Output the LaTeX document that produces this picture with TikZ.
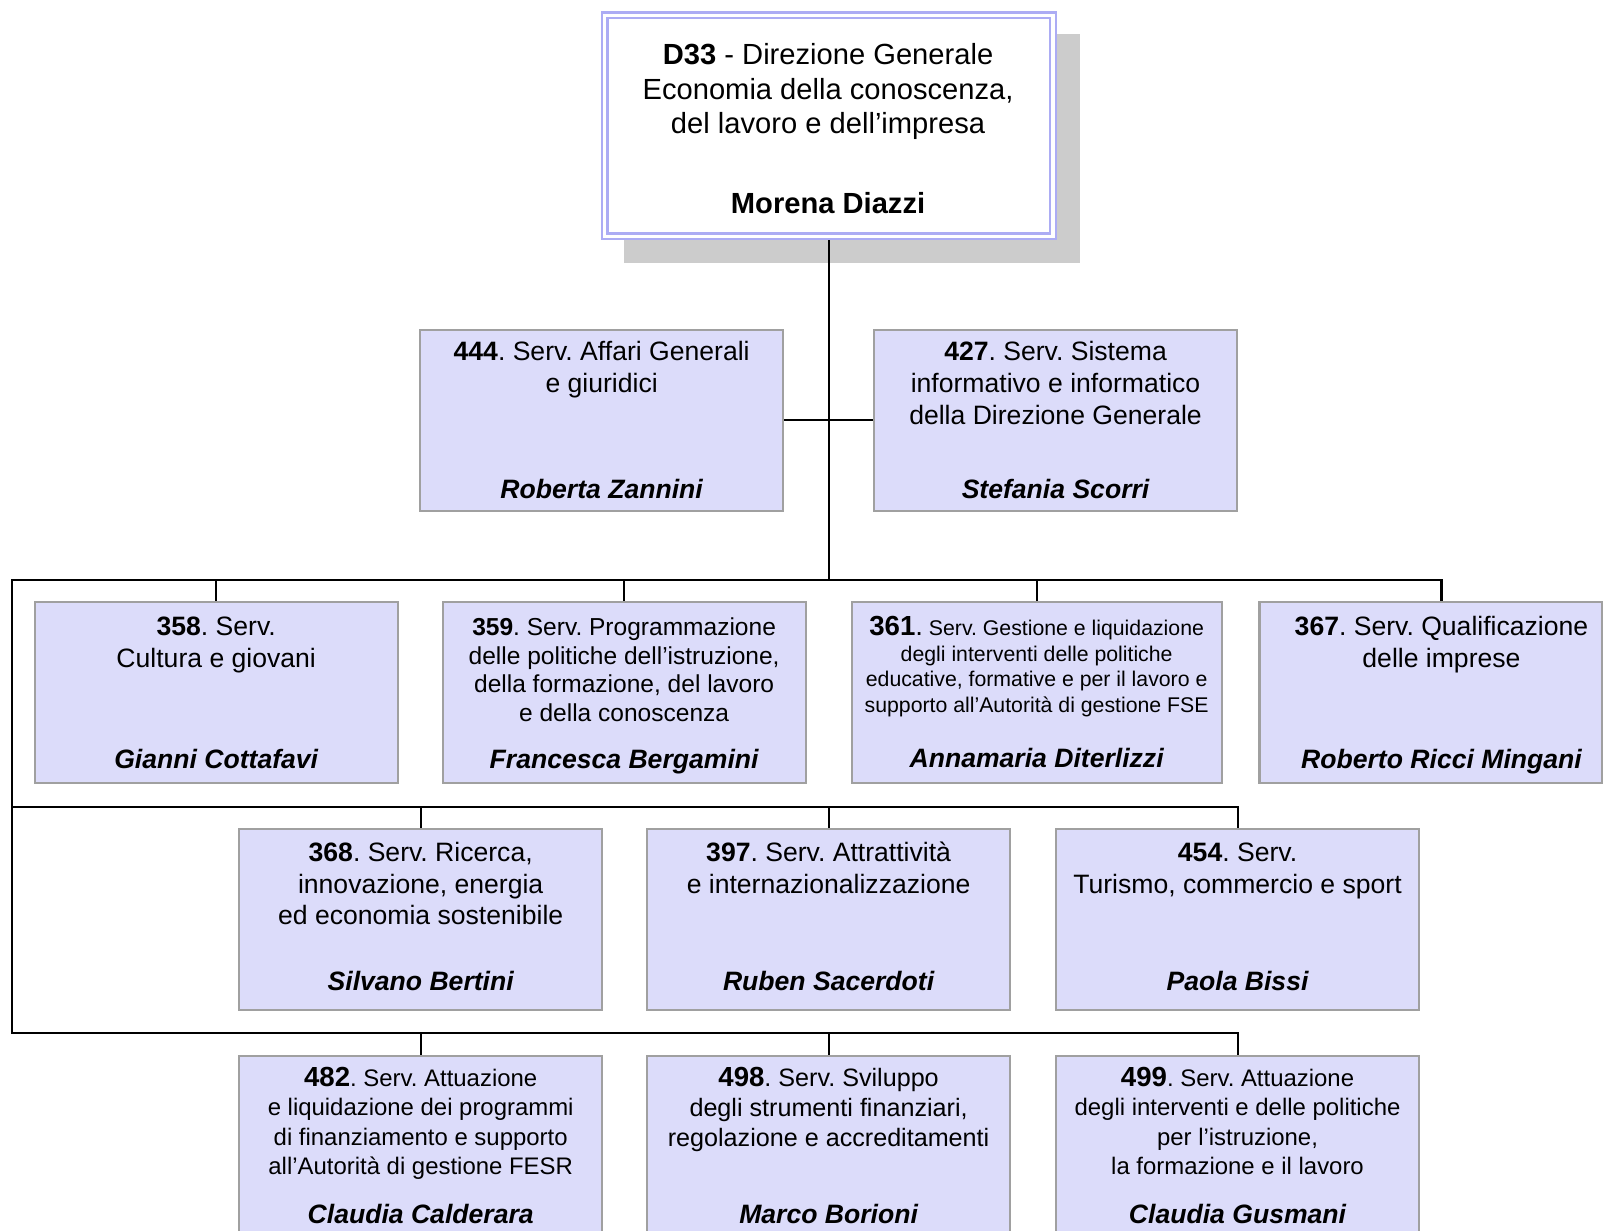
\documentclass[tikz,border=0pt]{standalone}
\usepackage{fontspec}
\setmainfont{Liberation Sans}
\definecolor{boxfill}{RGB}{220,220,250}
\definecolor{boxdraw}{RGB}{160,160,160}
\definecolor{topline}{RGB}{172,172,244}
\definecolor{shadowgray}{RGB}{204,204,204}
\newcommand{\topstrut}{\rule{0pt}{12pt}}
\newcommand{\bignum}[1]{{\fontsize{13.5}{12}\selectfont\textbf{#1}.}}
\frenchspacing
\pgfdeclarelayer{bg}
\pgfsetlayers{bg,main}
\begin{document}
\begin{tikzpicture}[x=0.5pt,y=-0.5pt,
  box/.style={draw=boxdraw, fill=boxfill, line width=1pt, inner sep=0pt, outer sep=0pt, minimum width=177.5pt, minimum height=88.5pt},
  desc/.style={anchor=north, align=center, inner sep=0pt, outer sep=0pt},
  who/.style={anchor=base, inner sep=0pt, outer sep=0pt, font=\fontsize{13}{15}\selectfont\bfseries\itshape},
  conn/.style={line width=1pt, draw=black}]
\useasboundingbox (0,0) rectangle (1568,1204);
\clip (0,0) rectangle (1568,1204);

% top box
\node[draw=topline, fill=white, line width=1.2pt, double=white, double distance=1.5pt, inner sep=0pt, outer sep=0pt, minimum width=219.25pt, minimum height=108pt] (d33) at (810.75,123) {};
\node[desc, font=\fontsize{14.25}{17}\selectfont] (d33t) at (810,39) {\topstrut\textbf{D33} - Direzione Generale\\Economia della conoscenza,\\del lavoro e dell’impresa};
\node[anchor=base, inner sep=0pt, outer sep=0pt, font=\fontsize{14.25}{17}\selectfont\bfseries] (d33n) at (810,209) {Morena Diazzi};

% boxes
\node[box] (b444) at (588.5,411) {};
\node[box] (b427) at (1032.5,411) {};
\node[box] (b358) at (211.5,677.5) {};
\node[box] (b359) at (610.5,677.5) {};
\node[box, minimum width=181pt] (b361) at (1014,677.5) {};
\node[box, minimum width=167.5pt] (b367) at (1399.5,677.5) {};
\node[box] (b368) at (411.5,899.5) {};
\node[box] (b397) at (810.5,899.5) {};
\node[box] (b454) at (1210.5,899.5) {};
\node[box] (b482) at (411.5,1121.5) {};
\node[box] (b498) at (810.5,1121.5) {};
\node[box] (b499) at (1210.5,1121.5) {};

% texts row 2
\node[desc, font=\fontsize{13}{15.5}\selectfont] (t444) at (588.5,329) {\topstrut\textbf{444}. Serv. Affari Generali\\e giuridici};
\node[who] (n444) at (588.5,488) {Roberta Zannini};
\node[desc, font=\fontsize{13}{15.5}\selectfont] (t427) at (1032.5,329) {\topstrut\textbf{427}. Serv. Sistema\\informativo e informatico\\della Direzione Generale};
\node[who] (n427) at (1032.5,488) {Stefania Scorri};

% texts row 3
\node[desc, font=\fontsize{13}{15.5}\selectfont] (t358) at (211.5,597.5) {\topstrut\textbf{358}. Serv.\\Cultura e giovani};
\node[who] (n358) at (211.5,751.5) {Gianni Cottafavi};
\node[desc, font=\fontsize{12}{13.9}\selectfont] (t359) at (610.5,598) {\topstrut\textbf{359}. Serv. Programmazione\\delle politiche dell’istruzione,\\della formazione, del lavoro\\e della conoscenza};
\node[who] (n359) at (610.5,751.5) {Francesca Bergamini};
\node[desc, font=\fontsize{10.4}{12.6}\selectfont] (t361) at (1014,597.5) {\topstrut\bignum{361} Serv. Gestione e liquidazione\\degli interventi delle politiche\\educative, formative e per il lavoro e\\supporto all’Autorità di gestione FSE};
\node[who] (n361) at (1014,751) {Annamaria Diterlizzi};
\node[desc, font=\fontsize{13}{15.5}\selectfont] (t367) at (1410,597.5) {\topstrut\textbf{367}. Serv. Qualificazione\\delle imprese};
\node[who] (n367) at (1410,751.5) {Roberto Ricci Mingani};

% texts row 4
\node[desc, font=\fontsize{13}{15.5}\selectfont] (t368) at (411.5,818.5) {\topstrut\textbf{368}. Serv. Ricerca,\\innovazione, energia\\ed economia sostenibile};
\node[who] (n368) at (411.5,968.5) {Silvano Bertini};
\node[desc, font=\fontsize{13}{15.5}\selectfont] (t397) at (810.5,819) {\topstrut\textbf{397}. Serv. Attrattività\\e internazionalizzazione};
\node[who] (n397) at (810.5,969) {Ruben Sacerdoti};
\node[desc, font=\fontsize{13}{15.5}\selectfont] (t454) at (1210.5,818.5) {\topstrut\textbf{454}. Serv.\\Turismo, commercio e sport};
\node[who] (n454) at (1210.5,968.5) {Paola Bissi};

% texts row 5
\node[desc, font=\fontsize{11.7}{14.3}\selectfont] (t482) at (411.5,1039) {\topstrut{\fontsize{13.5}{12}\selectfont\textbf{482}}. Serv. Attuazione\\e liquidazione dei programmi\\di finanziamento e supporto\\all’Autorità di gestione FESR};
\node[who] (n482) at (411.5,1196.5) {Claudia Calderara};
\node[desc, font=\fontsize{12.3}{14.7}\selectfont] (t498) at (810.5,1039) {\topstrut{\fontsize{13.5}{12}\selectfont\textbf{498}}. Serv. Sviluppo\\degli strumenti finanziari,\\regolazione e accreditamenti};
\node[who] (n498) at (810.5,1196.5) {Marco Borioni};
\node[desc, font=\fontsize{11.7}{14.3}\selectfont] (t499) at (1210.5,1039) {\topstrut{\fontsize{13.5}{12}\selectfont\textbf{499}}. Serv. Attuazione\\degli interventi e delle politiche\\per l’istruzione,\\la formazione e il lavoro};
\node[who] (n499) at (1210.5,1196.5) {Claudia Gusmani};

% connectors
\coordinate (bus1L) at (12,567);
\coordinate (bus1R) at (1410,567);
\coordinate (bus2L) at (12,789);
\coordinate (bus2R) at (1210.5,789);
\coordinate (bus3L) at (12,1010);
\coordinate (bus3R) at (1210.5,1010);

\begin{pgfonlayer}{bg}
\fill[white] (0,0) rectangle (1568,1204);
\fill[shadowgray] (610,33) rectangle (1056,257);
\draw[conn] (d33.south) -- (d33.south |- bus1L);
\draw[conn] (b444.east) -- (b427.west);
\draw[conn] (bus1R |- b367.north) -- (bus1R) -- (bus1L) -- (bus3L) -- (bus3R) -- (b499.north);
\draw[conn] (bus2L) -- (bus2R) -- (b454.north);
\draw[conn] (b358.north) -- (b358.north |- bus1L);
\draw[conn] (b359.north) -- (b359.north |- bus1L);
\draw[conn] (b361.north) -- (b361.north |- bus1L);
\draw[conn] (b368.north) -- (b368.north |- bus2L);
\draw[conn] (b397.north) -- (b397.north |- bus2L);
\draw[conn] (b482.north) -- (b482.north |- bus3L);
\draw[conn] (b498.north) -- (b498.north |- bus3L);
\end{pgfonlayer}
\end{tikzpicture}
\end{document}
